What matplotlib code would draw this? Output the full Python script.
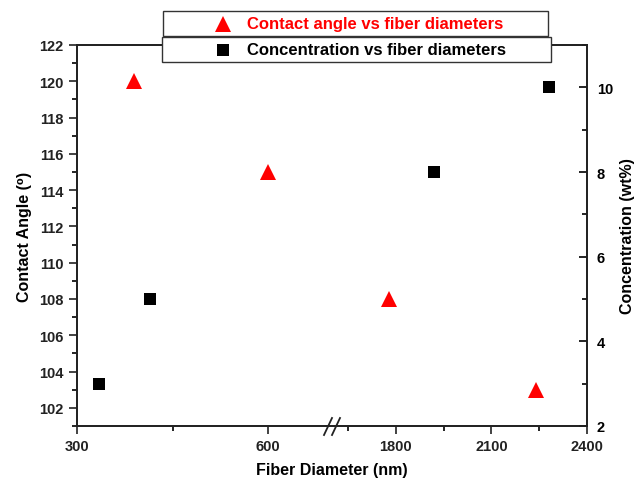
import numpy as np
import matplotlib
matplotlib.use("Agg")
import matplotlib.pyplot as plt
from matplotlib.ticker import FixedLocator, MultipleLocator
from matplotlib.patches import Rectangle
from matplotlib.lines import Line2D

plt.rcParams['font.family'] = ['Liberation Sans', 'DejaVu Sans']
plt.rcParams['font.weight'] = 'bold'

# data
angle_diam = [390, 600, 1780, 2240]
angle_vals = [120, 115, 108, 103]
conc_diam = [334, 415, 1920, 2280]
conc_vals = [3, 5, 8, 10]

x_major = [300, 600, 1800, 2100, 2400]
x_minor = [450, 1650, 1950, 2250]
x_labels = ['300', '600', '1800', '2100', '2400']

legend_labels = ['Contact angle vs fiber diameters', 'Concentration vs fiber diameters']

BRK_LO, BRK_HI = 700, 1600


def fwd(x):
    x = np.asarray(x, dtype=float)
    return np.where(x <= BRK_LO, x - 300,
                    np.where(x >= BRK_HI, 400 + (x - BRK_HI) / 2.0, 400))


def inv(u):
    u = np.asarray(u, dtype=float)
    return np.where(u <= 400, u + 300, BRK_HI + (u - 400) * 2.0)


fig = plt.figure(figsize=(6.36, 4.81), dpi=100)
ax = fig.add_axes([77/636, 1 - 427/481, (587 - 77)/636, (427 - 46)/481])
ax.set_xscale('function', functions=(fwd, inv))
ax.set_xlim(300, 2400)
ax.set_ylim(101, 122)

ax2 = ax.twinx()
ax2.set_ylim(2, 11)

ax.plot(angle_diam, angle_vals, linestyle='none', marker='^', color='#ff0000',
        markersize=11, markeredgewidth=0, clip_on=False)
ax2.plot(conc_diam, conc_vals, linestyle='none', marker='s', color='black',
         markersize=8, markeredgewidth=0, clip_on=False)

for a in (ax, ax2):
    for s in a.spines.values():
        s.set_linewidth(1.3)
        s.set_color('#222222')

ax.xaxis.set_major_locator(FixedLocator(x_major))
ax.xaxis.set_minor_locator(FixedLocator(x_minor))
ax.set_xticklabels(x_labels)
ax.set_yticks(np.arange(102, 123, 2))
ax.yaxis.set_minor_locator(MultipleLocator(1))
ax2.yaxis.set_major_locator(MultipleLocator(2))
ax2.yaxis.set_minor_locator(MultipleLocator(1))

ax.tick_params(axis='both', which='major', direction='out', length=6, width=1.2,
               labelsize=10.5, colors='#222222')
ax.tick_params(axis='both', which='minor', direction='out', length=3.5, width=1.2)
ax.tick_params(axis='y', which='both', right=False)
ax.tick_params(axis='x', which='both', top=False)
ax2.tick_params(axis='y', which='major', direction='in', length=6, width=1.2,
                labelsize=10.5, pad=7)
ax2.tick_params(axis='y', which='minor', direction='in', length=3.5, width=1.2)

for lbl in ax.get_xticklabels() + ax.get_yticklabels() + ax2.get_yticklabels():
    lbl.set_fontweight('bold')

ax.set_xlabel('Fiber Diameter (nm)', fontsize=11.5, fontweight='bold', labelpad=6)
ax.set_ylabel('Contact Angle (\u2070)', fontsize=11.5, fontweight='bold', labelpad=5)
ax2.set_ylabel('Concentration (wt%)', fontsize=11.5, fontweight='bold', labelpad=5)

# axis break marks
for dx in (-4, 4):
    x0 = 0.5 + dx / 510
    ax.plot([x0 - 4/510, x0 + 4/510], [-9/381, 8/381], transform=ax.transAxes,
            color='#222222', linewidth=1.3, clip_on=False)

# legend boxes
W, H = 636.0, 481.0
boxes = [(163, 12, 548, 37), (162, 38, 551, 63)]
colors = ['#ff0000', 'black']
markers = ['^', 's']
msizes = [11, 8]
for (x0, y0, x1, y1), lab, c, m, ms in zip(boxes, legend_labels, colors, markers, msizes):
    rect = Rectangle((x0 / W, 1 - y1 / H), (x1 - x0) / W, (y1 - y0) / H,
                     transform=fig.transFigure, facecolor='white',
                     edgecolor='#333333', linewidth=1.0, zorder=5)
    fig.patches.append(rect)
    yc = 1 - (y0 + y1) / 2 / H
    fig.lines.append(Line2D([223 / W], [yc], transform=fig.transFigure, marker=m,
                            color=c, markersize=ms, markeredgewidth=0, linestyle='none',
                            zorder=6))
    fig.text(247 / W, yc, lab, color=c, fontsize=12, fontweight='bold',
             va='center', ha='left', zorder=6)

fig.savefig('out.png', dpi=100)
